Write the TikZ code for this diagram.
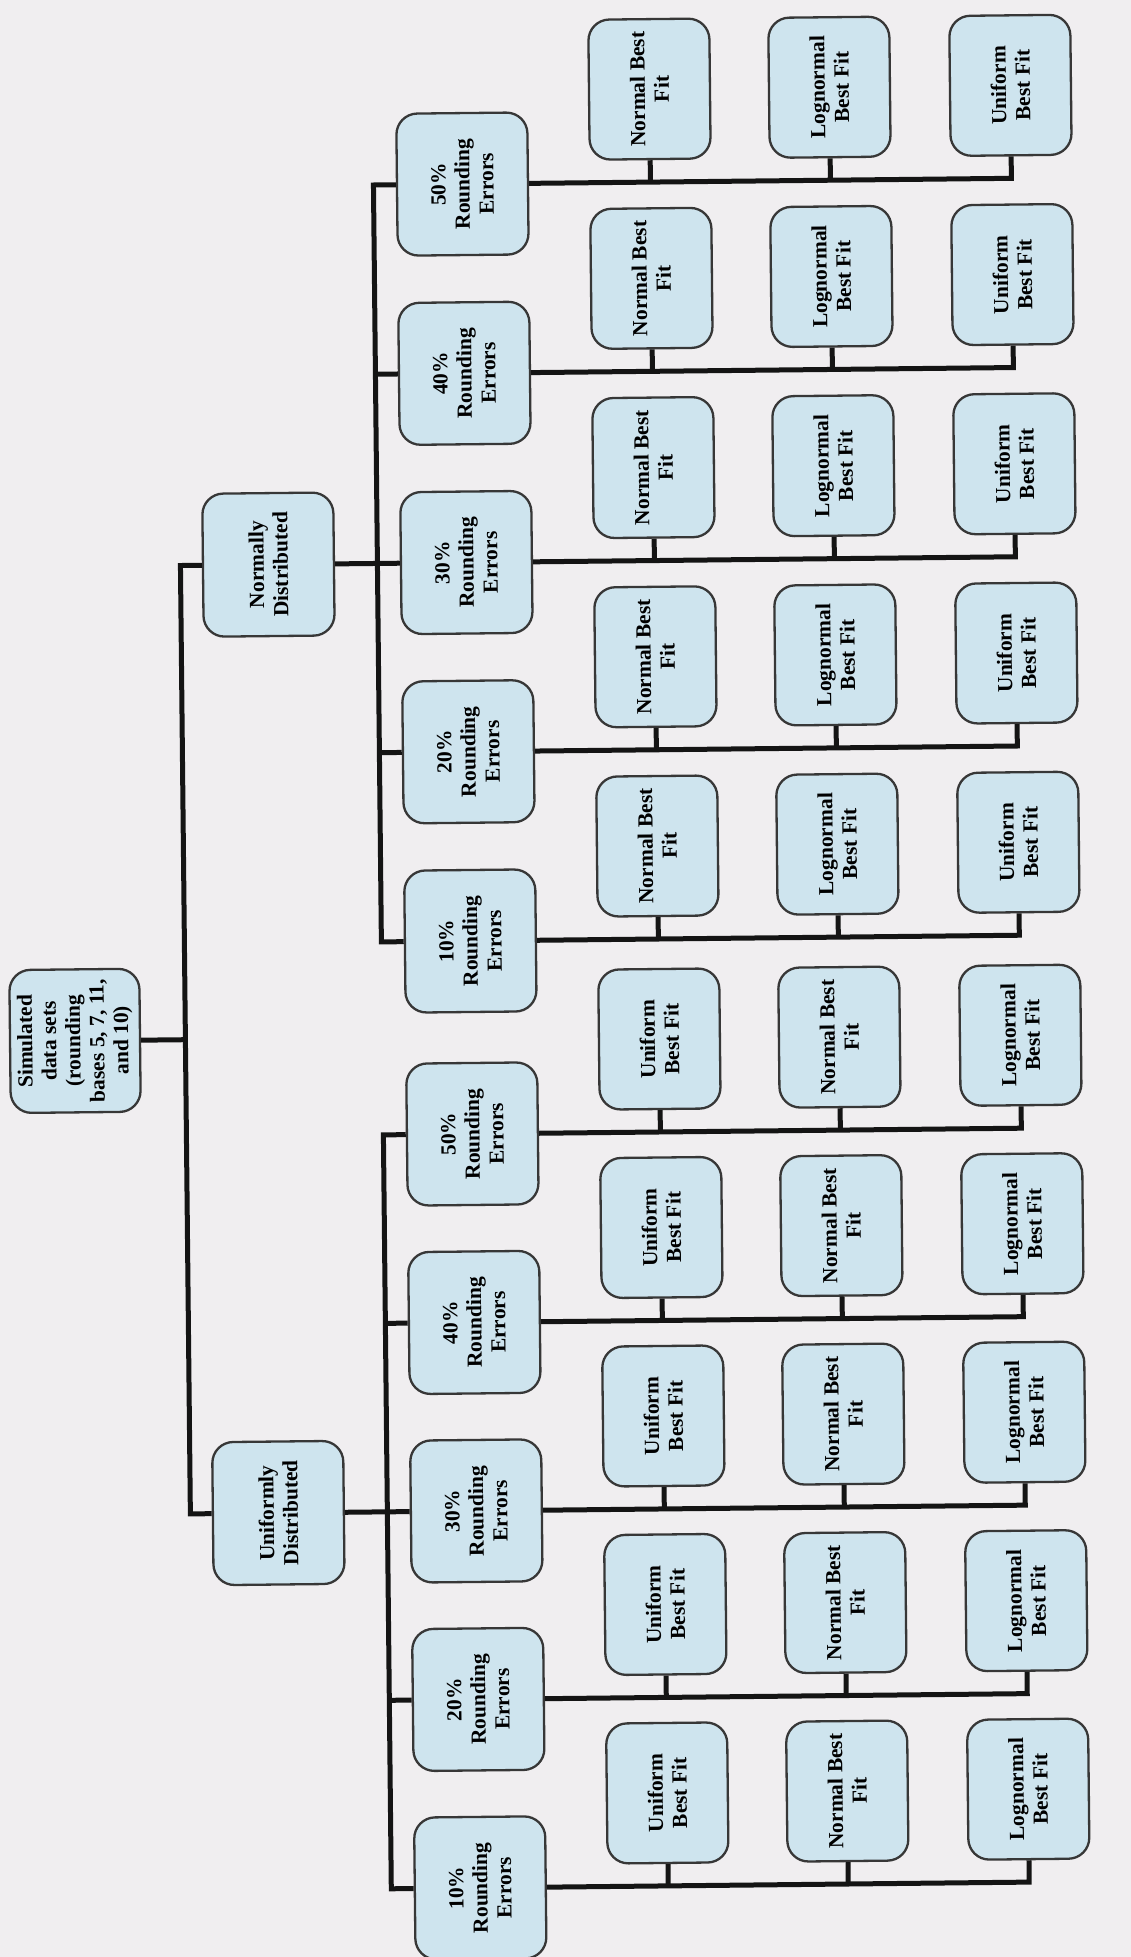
\documentclass[tikz,border=0pt]{standalone}
\usepackage{fontspec}
\setmainfont{Liberation Serif}
\definecolor{boxc}{RGB}{206,228,238}
\definecolor{bordc}{RGB}{55,55,55}
\definecolor{bgc}{RGB}{240,238,240}
\begin{document}
\begin{tikzpicture}[x=1pt,y=1pt]
\fill[bgc] (0,0) rectangle (1131,-1957);
\useasboundingbox (0,0) rectangle (1131,-1957);
\tikzset{
  box/.style={draw=bordc, line width=2.3pt, fill=boxc, rounded corners=21pt, rotate=90, align=center, inner sep=0pt, font=\bfseries\fontsize{21.5}{24}\selectfont},
  midbox/.style={box, minimum width=142pt, minimum height=131pt},
  leafbox/.style={box, minimum width=140pt, minimum height=121pt},
  conn/.style={line width=5pt, draw=black!92}
}
\begin{scope}[rotate around={0.6:(565,-1000)}, transform shape]
\node[midbox, minimum width=143pt, minimum height=130pt] (root) at (74.6,-1035.75) {Simulated\\data sets\\(rounding\\bases 5, 7, 11,\\and 10)};
\node[midbox, minimum width=143pt] (N) at (273,-561.5) {Normally\\Distributed};
\node[midbox, minimum width=143pt] (U) at (273,-1510) {Uniformly\\Distributed};
% Normally distributed group
\foreach \i/\p in {0/50,1/40,2/30,3/20,4/10} {
  \pgfmathsetmacro\ry{183+189.25*\i}
  \node[midbox] (Rn\p) at (471,-\ry) {\p\%\\Rounding\\Errors};
  \node[leafbox] (Lna\p) at (659,-\ry+93) {Normal Best\\Fit};
  \node[leafbox] (Lnb\p) at (839,-\ry+93) {Lognormal\\Best Fit};
  \node[leafbox] (Lnc\p) at (1020,-\ry+93) {Uniform\\Best Fit};
  \coordinate (Bn\p) at (382,-\ry);
  \coordinate (Sna\p) at (659,-\ry);
  \coordinate (Snb\p) at (839,-\ry);
  \coordinate (Snc\p) at (1020,-\ry);
  \draw[conn] (Rn\p.south) -- (Snc\p) -- (Lnc\p.west);
  \draw[conn] (Sna\p) -- (Lna\p.west);
  \draw[conn] (Snb\p) -- (Lnb\p.west);
}
% Uniformly distributed group
\foreach \i/\p in {0/50,1/40,2/30,3/20,4/10} {
  \pgfmathsetmacro\ry{1133+188.5*\i}
  \node[midbox] (Ru\p) at (471,-\ry) {\p\%\\Rounding\\Errors};
  \node[leafbox] (Lua\p) at (659,-\ry+93) {Uniform\\Best Fit};
  \node[leafbox] (Lub\p) at (839,-\ry+93) {Normal Best\\Fit};
  \node[leafbox] (Luc\p) at (1020,-\ry+93) {Lognormal\\Best Fit};
  \coordinate (Bu\p) at (382,-\ry);
  \coordinate (Sua\p) at (659,-\ry);
  \coordinate (Sub\p) at (839,-\ry);
  \coordinate (Suc\p) at (1020,-\ry);
  \draw[conn] (Ru\p.south) -- (Suc\p) -- (Luc\p.west);
  \draw[conn] (Sua\p) -- (Lua\p.west);
  \draw[conn] (Sub\p) -- (Lub\p.west);
}
% buses
\draw[conn] (Rn50.north) -- (Bn50) -- (Bn10) -- (Rn10.north);
\draw[conn] (Bn40) -- (Rn40.north);
\draw[conn] (Bn20) -- (Rn20.north);
\draw[conn] (N.south) -- (Rn30.north);
\draw[conn] (Ru50.north) -- (Bu50) -- (Bu10) -- (Ru10.north);
\draw[conn] (Bu40) -- (Ru40.north);
\draw[conn] (Bu20) -- (Ru20.north);
\draw[conn] (U.south) -- (Ru30.north);
% root
\coordinate (RBn) at (185,-561.5);
\coordinate (RBu) at (185,-1510);
\coordinate (RBr) at (185,-1035.75);
\draw[conn] (N.north) -- (RBn) -- (RBu) -- (U.north);
\draw[conn] (root.south) -- (RBr);
\end{scope}
\end{tikzpicture}
\end{document}
